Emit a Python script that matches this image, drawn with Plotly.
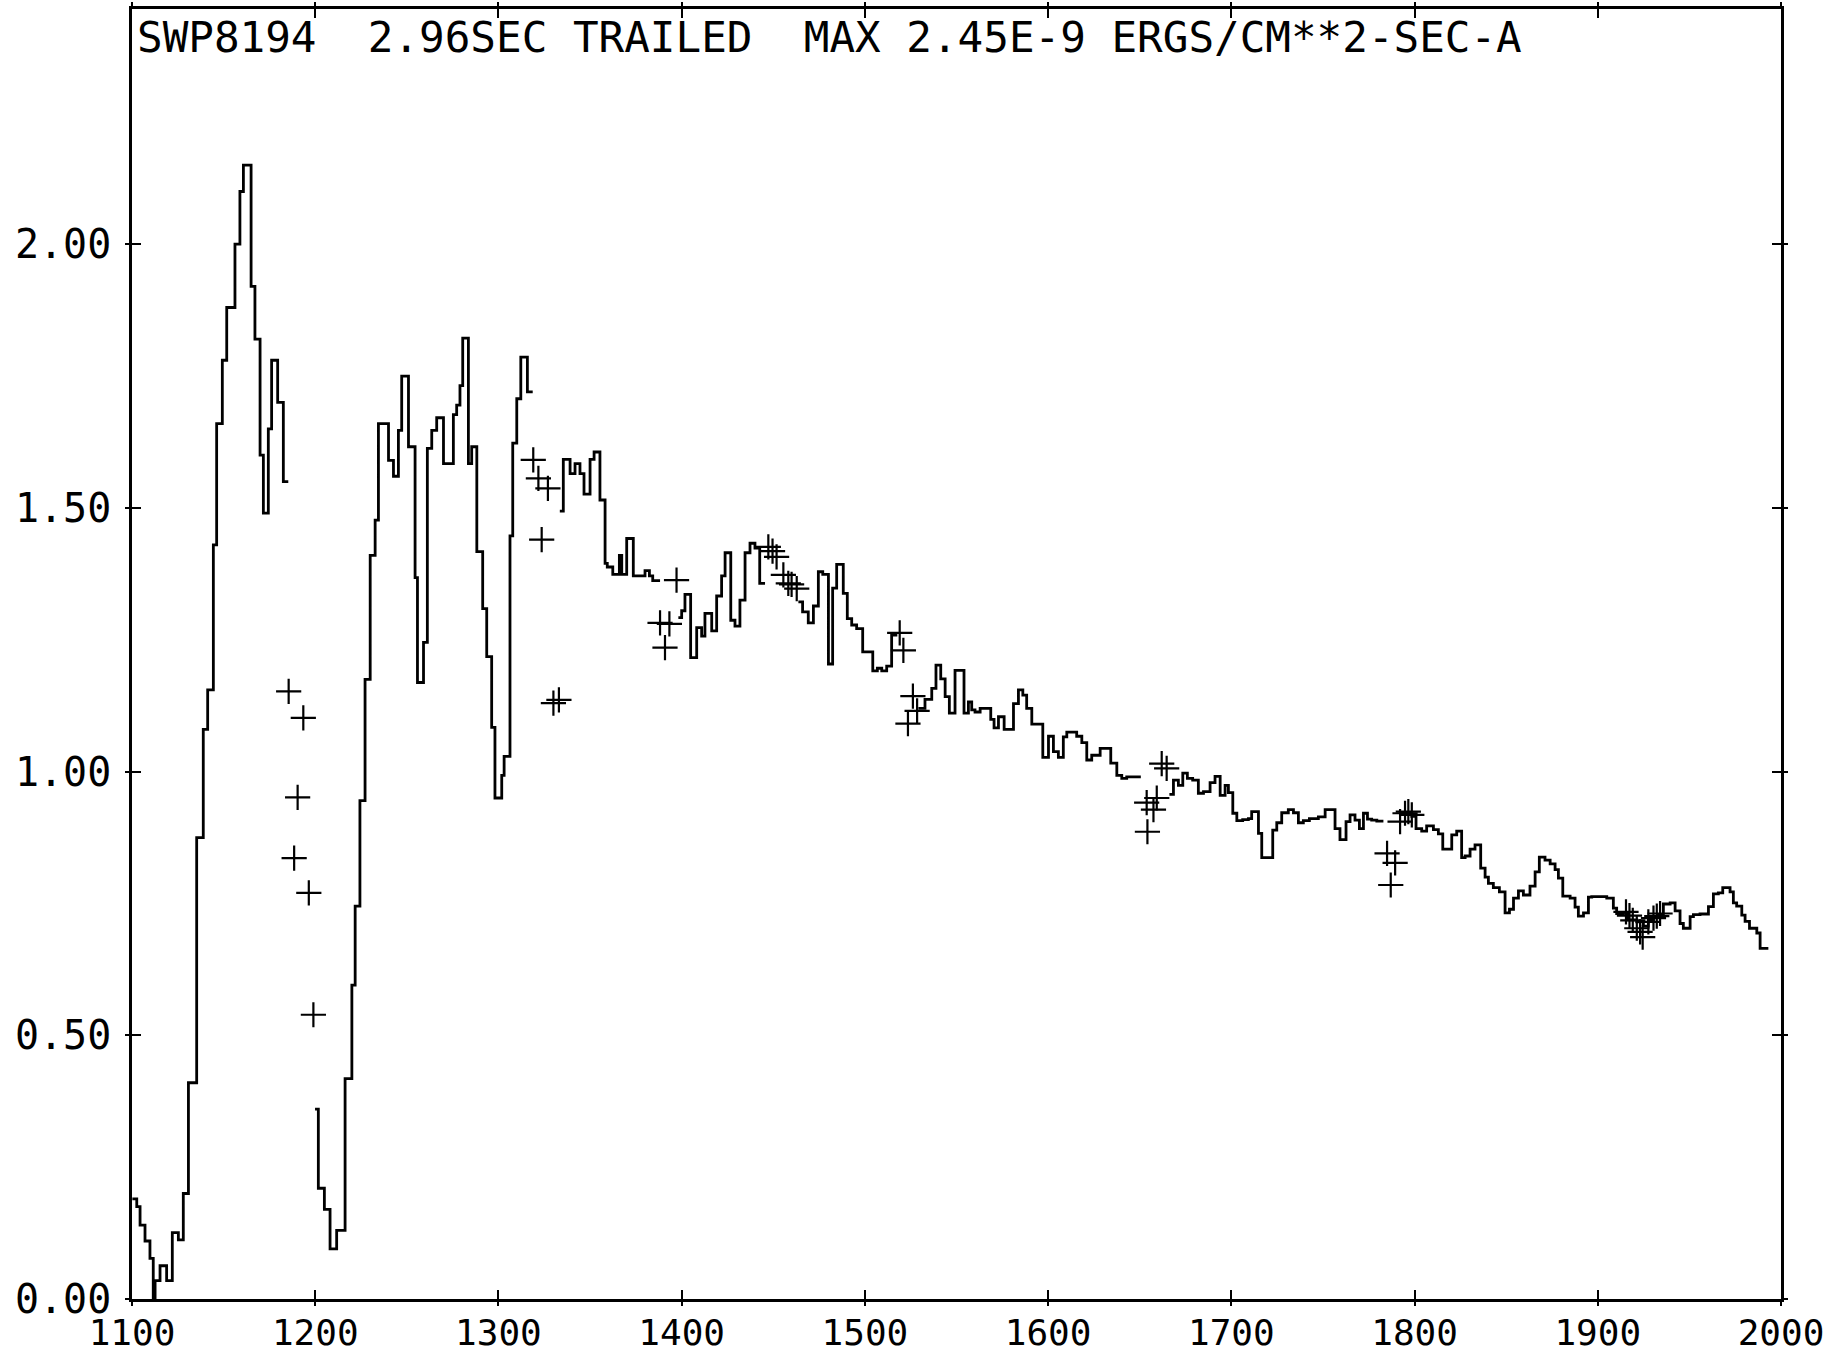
import plotly.graph_objects as go

# ---- spectrum: step segments (left bin edges, flux values, end edge) ----
seg1_edges = [1100.2, 1102.6, 1104.4, 1107.1, 1109.8, 1111.6, 1112.6, 1115.3, 1118.9, 1122.0,
              1125.3, 1128.0, 1130.8, 1135.3, 1138.9, 1141.3, 1144.4, 1146.2, 1149.3, 1151.7,
              1156.2, 1158.9, 1160.8, 1165.0, 1167.1, 1169.9, 1171.7, 1174.4, 1176.2, 1179.5,
              1182.6]
seg1_flux = [0.19, 0.175, 0.14, 0.11, 0.077, 0.0, 0.035, 0.063, 0.035, 0.126,
             0.112, 0.20, 0.41, 0.875, 1.08, 1.155, 1.43, 1.66, 1.78, 1.88,
             2.00, 2.10, 2.15, 1.92, 1.82, 1.60, 1.49, 1.65, 1.78, 1.70,
             1.55]
seg1_end = 1185.3

seg2_edges = [1199.9, 1201.7, 1205.0, 1208.1, 1211.7, 1216.3, 1220.0, 1221.8, 1224.4, 1227.2,
              1230.0, 1232.7, 1234.5, 1240.0, 1242.7, 1245.4, 1247.2, 1250.9, 1254.5, 1255.8,
              1259.1, 1261.2, 1263.6, 1266.3, 1270.0, 1275.4, 1277.2, 1279.0, 1280.5, 1283.6,
              1285.4, 1288.2, 1291.4, 1293.6, 1296.3, 1298.1, 1301.8, 1303.1, 1306.3, 1307.8,
              1310.0, 1312.2, 1315.8]
seg2_flux = [0.36, 0.21, 0.17, 0.095, 0.13, 0.418, 0.595, 0.745, 0.945, 1.175,
             1.41, 1.477, 1.66, 1.59, 1.56, 1.647, 1.75, 1.616, 1.368, 1.169,
             1.245, 1.613, 1.647, 1.671, 1.584, 1.677, 1.695, 1.732, 1.822, 1.584,
             1.616, 1.417, 1.309, 1.218, 1.084, 0.95, 0.993, 1.029, 1.447, 1.623,
             1.707, 1.786, 1.72]
seg2_end = 1318.7

seg3_edges = [1333.5, 1335.4, 1339.1, 1341.8, 1344.5, 1346.7, 1350.0, 1352.2, 1355.4, 1358.2,
              1359.4, 1362.4, 1366.0, 1367.3, 1370.0, 1373.6, 1380.0, 1382.4, 1384.2]
seg3_flux = [1.494, 1.592, 1.565, 1.584, 1.565, 1.526, 1.592, 1.606, 1.515, 1.395,
             1.388, 1.374, 1.41, 1.374, 1.442, 1.371, 1.381, 1.371, 1.362]
seg3_end = 1388.2

seg4_edges = [1398.2, 1400.0, 1401.8, 1404.9, 1408.2, 1410.9, 1412.7, 1416.4, 1419.1, 1421.8,
              1423.7, 1426.8, 1429.1, 1431.8, 1434.6, 1437.3, 1440.0, 1442.6]
seg4_flux = [1.292, 1.305, 1.336, 1.216, 1.273, 1.257, 1.300, 1.267, 1.333, 1.371,
             1.415, 1.287, 1.276, 1.325, 1.415, 1.433, 1.424, 1.357]
seg4_end = 1445.5

seg5_edges = [1463.7, 1466.0, 1469.1, 1471.9, 1474.6, 1477.0, 1480.1, 1482.4, 1484.6, 1488.2,
              1490.4, 1492.8, 1495.5, 1498.8, 1504.3, 1506.8, 1509.2, 1511.9, 1514.6]
seg5_flux = [1.322, 1.303, 1.282, 1.314, 1.379, 1.374, 1.204, 1.348, 1.393, 1.338,
             1.29, 1.278, 1.271, 1.227, 1.191, 1.196, 1.191, 1.20, 1.259]
seg5_end = 1517.7

seg6_edges = [1529.2, 1532.8, 1536.5, 1538.8, 1541.4, 1543.8, 1546.1, 1549.2, 1554.1, 1556.5,
              1558.3, 1560.1, 1562.9, 1568.7, 1570.5, 1572.9, 1576.0, 1581.1, 1583.8, 1586.2,
              1588.3, 1591.1, 1597.1, 1600.2, 1602.9, 1605.6, 1608.3, 1610.2, 1615.6, 1618.4,
              1621.1, 1623.8, 1628.4, 1634.2, 1637.5, 1640.2, 1642.9]
seg6_flux = [1.12, 1.137, 1.158, 1.202, 1.176, 1.142, 1.111, 1.192, 1.111, 1.132,
             1.117, 1.113, 1.12, 1.099, 1.083, 1.104, 1.080, 1.129, 1.155, 1.145,
             1.120, 1.090, 1.027, 1.067, 1.038, 1.027, 1.066, 1.075, 1.067, 1.055,
             1.022, 1.031, 1.044, 1.016, 0.993, 0.987, 0.990]
seg6_end = 1650.6

seg7_edges = [1666.2, 1668.4, 1671.1, 1673.5, 1676.0, 1678.9, 1682.0, 1684.8, 1688.4, 1691.1,
              1693.9, 1696.6, 1698.4, 1700.8, 1703.0, 1706.2, 1709.3, 1711.1, 1714.8, 1716.6,
              1722.6, 1724.8, 1727.5, 1731.1, 1733.9, 1736.6, 1739.3, 1742.6, 1747.5, 1751.2,
              1756.6, 1759.3, 1762.6, 1764.8, 1767.5, 1769.9, 1772.1, 1774.3, 1776.6, 1779.4]
seg7_flux = [0.957, 0.984, 0.974, 0.997, 0.987, 0.984, 0.959, 0.962, 0.979, 0.991,
             0.955, 0.974, 0.960, 0.921, 0.907, 0.909, 0.911, 0.924, 0.883, 0.837,
             0.889, 0.903, 0.922, 0.928, 0.922, 0.903, 0.907, 0.911, 0.914, 0.928,
             0.892, 0.871, 0.905, 0.918, 0.908, 0.892, 0.921, 0.910, 0.908, 0.906]
seg7_end = 1783.0

seg8_edges = [1792.1, 1798.5, 1800.8, 1803.9, 1806.6, 1810.3, 1813.0, 1815.4, 1820.3, 1823.0,
              1825.7, 1827.6, 1830.3, 1833.0, 1836.1, 1838.5, 1840.3, 1843.0, 1846.3, 1849.4,
              1851.8, 1854.0, 1856.7, 1859.4, 1863.0, 1865.8, 1868.1, 1871.2, 1874.0, 1876.7,
              1878.5, 1880.9, 1884.9, 1887.6, 1889.4, 1892.2, 1894.9, 1896.7, 1904.9, 1908.5,
              1910.3, 1914.0, 1916.7, 1921.3, 1924.9, 1927.6, 1930.4, 1933.1, 1935.8, 1939.5,
              1942.2, 1944.9, 1946.7, 1950.4, 1952.2, 1955.8, 1960.4, 1963.1, 1965.8, 1968.2,
              1972.2, 1974.0, 1975.8, 1978.6, 1980.4, 1982.8, 1986.8, 1988.6]
seg8_flux = [0.921, 0.915, 0.892, 0.887, 0.897, 0.890, 0.882, 0.853, 0.880, 0.887,
             0.837, 0.840, 0.853, 0.861, 0.817, 0.800, 0.788, 0.780, 0.772, 0.732,
             0.739, 0.760, 0.774, 0.766, 0.783, 0.810, 0.838, 0.832, 0.825, 0.814,
             0.798, 0.764, 0.760, 0.743, 0.726, 0.732, 0.762, 0.763, 0.760, 0.741,
             0.731, 0.733, 0.719, 0.715, 0.707, 0.719, 0.724, 0.729, 0.749, 0.751,
             0.736, 0.712, 0.703, 0.725, 0.729, 0.730, 0.744, 0.768, 0.770, 0.780,
             0.772, 0.751, 0.745, 0.728, 0.716, 0.703, 0.694, 0.665]
seg8_end = 1993.1

# ---- plotted "+" points ----
cross_wl = [1185.5, 1193.5, 1190.4, 1188.5, 1196.5, 1199.0,
            1319.0, 1321.8, 1327.0, 1323.6, 1330.0, 1333.0,
            1397.2, 1388.2, 1393.3, 1390.9,
            1447.3, 1449.6, 1451.8, 1455.5, 1458.2, 1460.0, 1462.8,
            1519.0, 1521.0, 1526.2, 1528.5, 1523.5,
            1662.0, 1664.7, 1653.8, 1659.3, 1657.5, 1654.2,
            1785.0, 1789.4, 1787.0, 1792.1, 1794.8, 1796.6, 1798.5,
            1915.4, 1917.3, 1919.1, 1921.3, 1923.1, 1924.5, 1927.6, 1930.4, 1932.2, 1934.0]
cross_flux = [1.152, 1.102, 0.951, 0.836, 0.770, 0.539,
              1.591, 1.556, 1.537, 1.440, 1.130, 1.136,
              1.363, 1.282, 1.280, 1.235,
              1.426, 1.418, 1.407, 1.373, 1.357, 1.355, 1.347,
              1.263, 1.230, 1.143, 1.115, 1.091,
              1.015, 1.006, 0.941, 0.950, 0.928, 0.886,
              0.845, 0.827, 0.785, 0.905, 0.921, 0.924, 0.918,
              0.734, 0.727, 0.718, 0.703, 0.696, 0.686, 0.715, 0.722, 0.726, 0.731]

x_ticks = [1100, 1200, 1300, 1400, 1500, 1600, 1700, 1800, 1900, 2000]
y_ticks = [0.0, 0.5, 1.0, 1.5, 2.0]
y_ticktext = ["0.00", "0.50", "1.00", "1.50", "2.00"]
subtitle = "SWP8194  2.96SEC TRAILED  MAX 2.45E-9 ERGS/CM**2-SEC-A"

segments = [
    (seg1_edges, seg1_flux, seg1_end), (seg2_edges, seg2_flux, seg2_end),
    (seg3_edges, seg3_flux, seg3_end), (seg4_edges, seg4_flux, seg4_end),
    (seg5_edges, seg5_flux, seg5_end), (seg6_edges, seg6_flux, seg6_end),
    (seg7_edges, seg7_flux, seg7_end), (seg8_edges, seg8_flux, seg8_end),
]
xs, ys = [], []
for e, f, end in segments:
    xs += list(e) + [end, None]
    ys += list(f) + [f[-1], None]

FONT = "DejaVu Sans Mono"
fig = go.Figure()
fig.add_trace(go.Scatter(x=xs, y=ys, mode="lines", line=dict(color="black", width=2.8, shape="hv"),
                         connectgaps=False, hoverinfo="skip", showlegend=False))
fig.add_trace(go.Scatter(x=cross_wl, y=cross_flux, mode="markers",
                         marker=dict(symbol="cross-thin", size=18, line=dict(color="black", width=2.2)),
                         showlegend=False))
# helper trace for the overlay axes (outer half of crossing ticks)
fig.add_trace(go.Scatter(x=[], y=[], xaxis="x2", yaxis="y2", showlegend=False))

xr = [1100, 2000]
yr = [0, 2.446]
fig.update_layout(
    width=1834, height=1356,
    margin=dict(l=132, r=53, t=9, b=57, autoexpand=False),
    paper_bgcolor="white", plot_bgcolor="white",
    xaxis=dict(range=xr, tickvals=x_ticks, ticks="inside", ticklen=9, tickwidth=2, tickcolor="black",
               showline=True, linewidth=2.5, linecolor="black", mirror="ticks",
               showgrid=False, zeroline=False, automargin=False,
               tickfont=dict(family=FONT, size=36, color="black")),
    yaxis=dict(range=yr, tickvals=y_ticks, ticktext=y_ticktext, ticks="inside", ticklen=9, tickwidth=2,
               tickcolor="black", showline=True, linewidth=2.5, linecolor="black", mirror="ticks",
               showgrid=False, zeroline=False, automargin=False, ticklabelstandoff=10,
               tickfont=dict(family=FONT, size=40, color="black")),
    xaxis2=dict(range=xr, overlaying="x", tickvals=x_ticks, ticks="outside", ticklen=6, tickwidth=2,
                tickcolor="black", mirror="ticks", showline=False, showticklabels=False,
                showgrid=False, zeroline=False, automargin=False),
    yaxis2=dict(range=yr, overlaying="y", tickvals=y_ticks, ticks="outside", ticklen=6, tickwidth=2,
                tickcolor="black", mirror="ticks", showline=False, showticklabels=False,
                showgrid=False, zeroline=False, automargin=False),
    annotations=[dict(text=subtitle, xref="paper", yref="paper", x=0.002, y=0.9993,
                      xanchor="left", yanchor="top", showarrow=False,
                      font=dict(family=FONT, size=42.6, color="black"))],
)

fig.write_html("out.html")
